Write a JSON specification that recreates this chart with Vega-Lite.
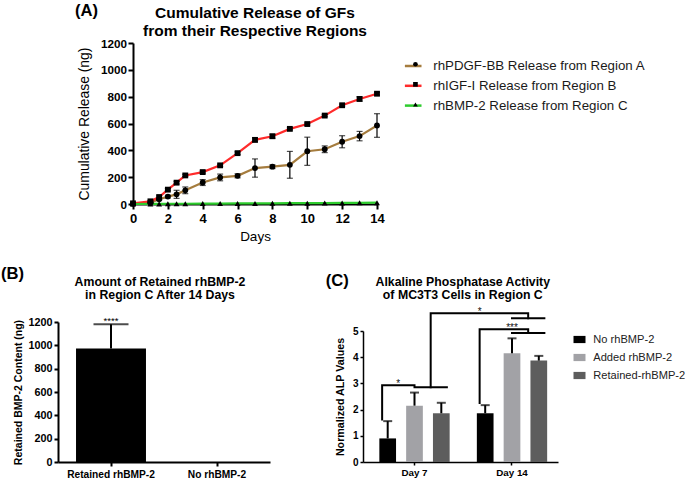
{
  "$schema": "https://vega.github.io/schema/vega-lite/v6.json",
  "autosize": {"type": "none"},
  "padding": {"left": 58, "top": 43, "right": 627, "bottom": 438},
  "background": "white",
  "config": {
    "view": {"stroke": null},
    "font": "Liberation Sans",
    "axis": {"grid": false, "labelOverlap": false, "labelBound": false, "labelFlush": false, "domainColor": "#000", "tickColor": "#000", "labelColor": "#000", "titleColor": "#000", "labelFont": "Liberation Sans", "titleFont": "Liberation Sans"},
    "axisY": {"labelOverlap": false},
    "axisQuantitative": {"labelOverlap": false},
    "legend": {"labelFont": "Liberation Sans"},
    "text": {"font": "Liberation Sans", "color": "#000"}
  },
  "datasets": {
    "release": [
      {"day": 0, "series": "rhPDGF-BB Release from Region A", "value": 2, "err": 0},
      {"day": 1, "series": "rhPDGF-BB Release from Region A", "value": 10, "err": 4},
      {"day": 1.5, "series": "rhPDGF-BB Release from Region A", "value": 35, "err": 8},
      {"day": 2, "series": "rhPDGF-BB Release from Region A", "value": 55, "err": 10},
      {"day": 2.5, "series": "rhPDGF-BB Release from Region A", "value": 72, "err": 30},
      {"day": 3, "series": "rhPDGF-BB Release from Region A", "value": 102, "err": 25},
      {"day": 4, "series": "rhPDGF-BB Release from Region A", "value": 160, "err": 22},
      {"day": 5, "series": "rhPDGF-BB Release from Region A", "value": 198, "err": 25},
      {"day": 6, "series": "rhPDGF-BB Release from Region A", "value": 210, "err": 15},
      {"day": 7, "series": "rhPDGF-BB Release from Region A", "value": 268, "err": 68},
      {"day": 8, "series": "rhPDGF-BB Release from Region A", "value": 278, "err": 14},
      {"day": 9, "series": "rhPDGF-BB Release from Region A", "value": 292, "err": 100},
      {"day": 10, "series": "rhPDGF-BB Release from Region A", "value": 393, "err": 105},
      {"day": 11, "series": "rhPDGF-BB Release from Region A", "value": 408, "err": 25},
      {"day": 12, "series": "rhPDGF-BB Release from Region A", "value": 464, "err": 45},
      {"day": 13, "series": "rhPDGF-BB Release from Region A", "value": 506, "err": 35},
      {"day": 14, "series": "rhPDGF-BB Release from Region A", "value": 585, "err": 88},
      {"day": 0, "series": "rhIGF-I Release from Region B", "value": 5, "err": 0},
      {"day": 1, "series": "rhIGF-I Release from Region B", "value": 20, "err": 6},
      {"day": 1.5, "series": "rhIGF-I Release from Region B", "value": 52, "err": 8},
      {"day": 2, "series": "rhIGF-I Release from Region B", "value": 107, "err": 8},
      {"day": 2.5, "series": "rhIGF-I Release from Region B", "value": 159, "err": 10},
      {"day": 3, "series": "rhIGF-I Release from Region B", "value": 213, "err": 8},
      {"day": 4, "series": "rhIGF-I Release from Region B", "value": 238, "err": 8},
      {"day": 5, "series": "rhIGF-I Release from Region B", "value": 288, "err": 8},
      {"day": 6, "series": "rhIGF-I Release from Region B", "value": 379, "err": 10},
      {"day": 7, "series": "rhIGF-I Release from Region B", "value": 478, "err": 15},
      {"day": 8, "series": "rhIGF-I Release from Region B", "value": 505, "err": 15},
      {"day": 9, "series": "rhIGF-I Release from Region B", "value": 560, "err": 8},
      {"day": 10, "series": "rhIGF-I Release from Region B", "value": 596, "err": 8},
      {"day": 11, "series": "rhIGF-I Release from Region B", "value": 659, "err": 8},
      {"day": 12, "series": "rhIGF-I Release from Region B", "value": 736, "err": 8},
      {"day": 13, "series": "rhIGF-I Release from Region B", "value": 783, "err": 16},
      {"day": 14, "series": "rhIGF-I Release from Region B", "value": 822, "err": 10},
      {"day": 0, "series": "rhBMP-2 Release from Region C", "value": 0, "err": 0},
      {"day": 1, "series": "rhBMP-2 Release from Region C", "value": 1, "err": 0},
      {"day": 1.5, "series": "rhBMP-2 Release from Region C", "value": 1, "err": 0},
      {"day": 2, "series": "rhBMP-2 Release from Region C", "value": 2, "err": 0},
      {"day": 2.5, "series": "rhBMP-2 Release from Region C", "value": 2, "err": 0},
      {"day": 3, "series": "rhBMP-2 Release from Region C", "value": 2, "err": 0},
      {"day": 4, "series": "rhBMP-2 Release from Region C", "value": 3, "err": 0},
      {"day": 5, "series": "rhBMP-2 Release from Region C", "value": 3, "err": 0},
      {"day": 6, "series": "rhBMP-2 Release from Region C", "value": 4, "err": 0},
      {"day": 7, "series": "rhBMP-2 Release from Region C", "value": 4, "err": 0},
      {"day": 8, "series": "rhBMP-2 Release from Region C", "value": 5, "err": 0},
      {"day": 9, "series": "rhBMP-2 Release from Region C", "value": 6, "err": 0},
      {"day": 10, "series": "rhBMP-2 Release from Region C", "value": 6, "err": 0},
      {"day": 11, "series": "rhBMP-2 Release from Region C", "value": 7, "err": 0},
      {"day": 12, "series": "rhBMP-2 Release from Region C", "value": 8, "err": 0},
      {"day": 13, "series": "rhBMP-2 Release from Region C", "value": 9, "err": 0},
      {"day": 14, "series": "rhBMP-2 Release from Region C", "value": 10, "err": 0}
    ],
    "retained": [
      {"group": "Retained rhBMP-2", "value": 972, "upper": 1180, "sig": "****"},
      {"group": "No rhBMP-2", "value": 0, "upper": 0, "sig": ""}
    ],
    "alp": [
      {"day": "Day 7", "group": "No rhBMP-2", "value": 0.9, "upper": 1.56},
      {"day": "Day 7", "group": "Added rhBMP-2", "value": 2.15, "upper": 2.65},
      {"day": "Day 7", "group": "Retained-rhBMP-2", "value": 1.86, "upper": 2.26},
      {"day": "Day 14", "group": "No rhBMP-2", "value": 1.86, "upper": 2.17},
      {"day": "Day 14", "group": "Added rhBMP-2", "value": 4.15, "upper": 4.72},
      {"day": "Day 14", "group": "Retained-rhBMP-2", "value": 3.87, "upper": 4.05}
    ],
    "brackets": [
      {"bracket": "d7", "ord": 1, "day": "Day 7", "slot": "No rhBMP-2", "level": 1.62},
      {"bracket": "d7", "ord": 2, "day": "Day 7", "slot": "No rhBMP-2", "level": 2.93},
      {"bracket": "d7", "ord": 3, "day": "Day 7", "slot": "Added rhBMP-2", "level": 2.93},
      {"bracket": "d7", "ord": 4, "day": "Day 7", "slot": "Added rhBMP-2", "level": 2.85},
      {"bracket": "d7", "ord": 5, "day": "Day 7", "slot": "Retained-rhBMP-2", "level": 2.85},
      {"bracket": "days", "ord": 1, "day": "Day 7", "slot": "Added/Retained", "level": 2.85},
      {"bracket": "days", "ord": 2, "day": "Day 7", "slot": "Added/Retained", "level": 5.68},
      {"bracket": "days", "ord": 3, "day": "Day 14", "slot": "Added/Retained", "level": 5.68},
      {"bracket": "days", "ord": 4, "day": "Day 14", "slot": "Added/Retained", "level": 5.49},
      {"bracket": "days_pair", "ord": 1, "day": "Day 14", "slot": "Added rhBMP-2", "level": 5.49},
      {"bracket": "days_pair", "ord": 2, "day": "Day 14", "slot": "Retained-rhBMP-2", "level": 5.49},
      {"bracket": "d14", "ord": 1, "day": "Day 14", "slot": "No rhBMP-2", "level": 2.25},
      {"bracket": "d14", "ord": 2, "day": "Day 14", "slot": "No rhBMP-2", "level": 5.07},
      {"bracket": "d14", "ord": 3, "day": "Day 14", "slot": "Added/Retained", "level": 5.07},
      {"bracket": "d14", "ord": 4, "day": "Day 14", "slot": "Added/Retained", "level": 4.92},
      {"bracket": "d14_pair", "ord": 1, "day": "Day 14", "slot": "Added rhBMP-2", "level": 4.92},
      {"bracket": "d14_pair", "ord": 2, "day": "Day 14", "slot": "Retained-rhBMP-2", "level": 4.92}
    ],
    "stars": [
      {"day": "Day 7", "slot": "No/Added", "level": 2.93, "sig": "*"},
      {"day": "Day 14", "slot": "No rhBMP-2", "level": 5.68, "sig": "*"},
      {"day": "Day 14", "slot": "Added rhBMP-2", "level": 5.07, "sig": "***"}
    ]
  },
  "bounds": "flush",
  "spacing": 118,
  "vconcat": [
    {
      "width": 319,
      "height": 161,
      "layer": [
        {
          "data": {"name": "release"},
          "mark": {"type": "line", "strokeWidth": 2.2},
          "encoding": {
            "x": {"field": "day", "type": "quantitative", "scale": {"domain": [0, 14], "range": [75, 319], "nice": false, "zero": false},
              "axis": {"values": [0, 2, 4, 6, 8, 10, 12, 14], "title": "Days", "labelOverlap": false, "labelFlush": false, "labelFontSize": 13, "labelFontWeight": "bold", "titleFontSize": 13.5, "titleFontWeight": "normal", "tickSize": 5, "tickWidth": 2, "domainWidth": 2, "labelPadding": 3, "titlePadding": 4}},
            "y": {"field": "value", "type": "quantitative", "scale": {"domain": [0, 1200], "nice": false},
              "axis": {"values": [0, 200, 400, 600, 800, 1000, 1200], "tickCount": 7, "format": "d", "labelOverlap": false, "labelBound": false, "labelSeparation": 0, "title": "Cumulative Release (ng)", "offset": -75, "labelFontSize": 11.7, "labelFontWeight": "bold", "titleFontSize": 13.9, "titleFontWeight": "normal", "tickSize": 5, "tickWidth": 2, "domainWidth": 2, "labelPadding": 1.5, "titlePadding": 9}},
            "stroke": {"field": "series", "type": "nominal",
              "scale": {"domain": ["rhPDGF-BB Release from Region A", "rhIGF-I Release from Region B", "rhBMP-2 Release from Region C"], "range": ["#a57c3e", "#ff2b2b", "#2ecc2e"]},
              "legend": {"orient": "none", "legendX": 345.2, "legendY": 13, "title": null, "symbolType": "stroke", "symbolSize": 276, "symbolStrokeWidth": 2.5, "labelFontSize": 13.3, "labelColor": "#1a1a1a", "labelOffset": 10, "rowPadding": 2.8, "labelLimit": 400}}
          }
        },
        {
          "data": {"name": "release"},
          "transform": [{"filter": "datum.err > 0"}],
          "mark": {"type": "errorbar", "color": "black", "ticks": {"size": 6, "thickness": 1.2}, "rule": {"strokeWidth": 1.2}},
          "encoding": {
            "x": {"field": "day", "type": "quantitative", "title": "Days"},
            "y": {"field": "value", "type": "quantitative", "title": "Cumulative Release (ng)"},
            "yError": {"field": "err"}
          }
        },
        {
          "data": {"name": "release"},
          "mark": {"type": "point", "filled": true, "color": "black", "size": 34, "opacity": 1},
          "encoding": {
            "x": {"field": "day", "type": "quantitative", "title": "Days"},
            "y": {"field": "value", "type": "quantitative", "title": "Cumulative Release (ng)"},
            "shape": {"field": "series", "type": "nominal", "sort": null, "scale": {"range": ["circle", "square", "triangle-up"]},
              "legend": {"orient": "none", "legendX": 350.8, "legendY": 14.6, "title": null, "symbolSize": 22, "symbolFillColor": "black", "symbolStrokeWidth": 0, "labelFontSize": 13.3, "labelExpr": "''", "rowPadding": 6.1}}
          }
        },
        {
          "data": {"values": [{"t": "(A)"}]},
          "mark": {"type": "text", "fontSize": 16.6, "fontWeight": "bold", "baseline": "middle", "align": "center"},
          "encoding": {"x": {"datum": -2.67, "type": "quantitative"}, "y": {"datum": 1438, "type": "quantitative"}, "text": {"field": "t"}}
        },
        {
          "data": {"values": [{"t": "Cumulative Release of GFs"}]},
          "mark": {"type": "text", "fontSize": 15.5, "fontWeight": "bold", "baseline": "alphabetic", "align": "center", "lineHeight": 18.3, "text": ["Cumulative Release of GFs", "from their Respective Regions"]},
          "encoding": {"x": {"datum": 7, "type": "quantitative"}, "y": {"datum": 1388, "type": "quantitative"}}
        }
      ]
    },
    {
      "bounds": "flush",
      "spacing": 93,
      "hconcat": [
        {
          "width": 212,
          "height": 140,
          "layer": [
            {
              "data": {"name": "retained"},
              "mark": {"type": "bar", "color": "black"},
              "encoding": {
                "x": {"field": "group", "type": "nominal", "sort": null, "scale": {"paddingInner": 0.34, "paddingOuter": 0.17},
                  "axis": {"title": null, "labelAngle": 0, "labelOverlap": false, "labelFontSize": 10.2, "labelFontWeight": "bold", "tickSize": 4, "tickWidth": 2, "domainWidth": 2, "labelPadding": 3}},
                "y": {"field": "value", "type": "quantitative", "scale": {"domain": [0, 1200], "nice": false},
                  "axis": {"values": [0, 200, 400, 600, 800, 1000, 1200], "tickCount": 7, "format": "d", "labelOverlap": false, "labelBound": false, "labelSeparation": 0, "title": "Retained BMP-2 Content (ng)", "titleFontSize": 10.5, "titleFontWeight": "bold", "labelFontSize": 10.8, "labelFontWeight": "bold", "tickSize": 4, "tickWidth": 2, "domainWidth": 2, "labelPadding": 2, "titlePadding": 4.5}}
              }
            },
            {
              "data": {"name": "retained"},
              "transform": [{"filter": "datum.upper > datum.value"}],
              "mark": {"type": "rule", "color": "black", "strokeWidth": 2},
              "encoding": {
                "x": {"field": "group", "type": "nominal", "sort": null},
                "y": {"field": "value", "type": "quantitative"},
                "y2": {"field": "upper"}
              }
            },
            {
              "data": {"name": "retained"},
              "transform": [{"filter": "datum.upper > datum.value"}],
              "mark": {"type": "tick", "color": "black", "size": 35, "thickness": 2, "orient": "horizontal"},
              "encoding": {
                "x": {"field": "group", "type": "nominal", "sort": null},
                "y": {"field": "upper", "type": "quantitative"}
              }
            },
            {
              "data": {"name": "retained"},
              "mark": {"type": "text", "fontSize": 9.5, "baseline": "alphabetic", "align": "center", "dy": 0, "fill": "#000"},
              "encoding": {
                "x": {"field": "group", "type": "nominal", "sort": null},
                "y": {"field": "upper", "type": "quantitative"},
                "text": {"field": "sig"}
              }
            },
            {
              "data": {"values": [{"t": "(B)"}]},
              "mark": {"type": "text", "fontSize": 16.6, "fontWeight": "bold", "baseline": "middle", "align": "center", "dx": -98.5},
              "encoding": {"x": {"datum": "Retained rhBMP-2", "type": "nominal"}, "y": {"datum": 1609, "type": "quantitative"}, "text": {"field": "t"}}
            },
            {
              "data": {"values": [{"t": "title"}]},
              "mark": {"type": "text", "fontSize": 12.3, "fontWeight": "bold", "baseline": "alphabetic", "align": "center", "dx": 49, "lineHeight": 13, "text": ["Amount of Retained rhBMP-2", "in Region C After 14 Days"]},
              "encoding": {"x": {"datum": "Retained rhBMP-2", "type": "nominal"}, "y": {"datum": 1510, "type": "quantitative"}}
            }
          ]
        },
        {
          "width": 195,
          "height": 140,
          "resolve": {"scale": {"xOffset": "independent"}},
          "layer": [
            {
              "data": {"name": "alp"},
              "encoding": {
                "x": {"field": "day", "type": "nominal", "sort": null, "scale": {"domain": ["Day 7", "Day 14"], "paddingInner": 0.2, "paddingOuter": 0.1, "align": 0.641},
                  "axis": {"title": null, "labelAngle": 0, "labelOverlap": false, "labelFontSize": 9.8, "labelFontWeight": "bold", "tickSize": 3, "tickWidth": 1.5, "domainWidth": 1.5, "labelPadding": 2}},
                "xOffset": {"field": "group", "type": "nominal", "scale": {"domain": ["No rhBMP-2", "Added rhBMP-2", "Retained-rhBMP-2"], "paddingInner": 0.377, "paddingOuter": 0.1435}},
                "y": {"field": "value", "type": "quantitative", "scale": {"domain": [0, 5], "range": [140, 9], "nice": false},
                  "axis": {"values": [0, 1, 2, 3, 4, 5], "tickCount": 6, "labelOverlap": false, "labelBound": false, "labelSeparation": 0, "title": "Normalized ALP Values", "titleFontSize": 10.7, "titleFontWeight": "bold", "labelFontSize": 10, "labelFontWeight": "bold", "tickSize": 3, "tickWidth": 1.5, "domainWidth": 1.5, "labelPadding": 2, "titlePadding": 6.5}}
              },
              "layer": [
                {
                  "mark": {"type": "bar"},
                  "encoding": {
                    "fill": {"field": "group", "type": "nominal",
                      "scale": {"domain": ["No rhBMP-2", "Added rhBMP-2", "Retained-rhBMP-2"], "range": ["#000000", "#a2a2a6", "#5d5d5d"]},
                      "legend": {"orient": "none", "legendX": 515.5, "legendY": 290.5, "title": null, "symbolType": "M-1,-0.6H1V0.6H-1Z", "symbolSize": 144, "symbolStrokeWidth": 0, "labelFontSize": 11.1, "labelColor": "#222", "labelOffset": 7.8, "rowPadding": 6}}
                  }
                },
                {
                  "mark": {"type": "rule", "color": "black", "strokeWidth": 2},
                  "encoding": {"y2": {"field": "upper"}}
                },
                {
                  "mark": {"type": "tick", "color": "black", "size": 9, "thickness": 2, "orient": "horizontal"},
                  "encoding": {"y": {"field": "upper", "type": "quantitative"}}
                }
              ]
            },
            {
              "encoding": {
                "x": {"field": "day", "type": "nominal", "sort": null},
                "xOffset": {"field": "slot", "type": "nominal", "scale": {"domain": ["No rhBMP-2", "No/Added", "Added rhBMP-2", "Added/Retained", "Retained-rhBMP-2"], "paddingInner": 0, "paddingOuter": 0.41}},
                "y": {"field": "level", "type": "quantitative"}
              },
              "layer": [
                {
                  "data": {"name": "brackets"},
                  "mark": {"type": "line", "color": "black", "strokeWidth": 2, "strokeJoin": "miter", "strokeCap": "square"},
                  "encoding": {"detail": {"field": "bracket"}, "order": {"field": "ord", "type": "quantitative"}}
                },
                {
                  "data": {"name": "stars"},
                  "mark": {"type": "text", "fontSize": 10, "baseline": "alphabetic", "align": "center", "dy": 2, "fill": "#111"},
                  "encoding": {"text": {"field": "sig"}}
                }
              ]
            },
            {
              "data": {"values": [{"t": "(C)"}]},
              "mark": {"type": "text", "fontSize": 16.6, "fontWeight": "bold", "baseline": "middle", "align": "center", "dx": -77.2},
              "encoding": {"x": {"datum": "Day 7", "type": "nominal"}, "y": {"datum": 6.92, "type": "quantitative"}, "text": {"field": "t"}}
            },
            {
              "data": {"values": [{"t": "title"}]},
              "mark": {"type": "text", "fontSize": 12.3, "fontWeight": "bold", "baseline": "alphabetic", "align": "center", "dx": 48.3, "lineHeight": 13, "text": ["Alkaline Phosphatase Activity", "of MC3T3 Cells in Region C"]},
              "encoding": {"x": {"datum": "Day 7", "type": "nominal"}, "y": {"datum": 6.72, "type": "quantitative"}}
            }
          ]
        }
      ]
    }
  ]
}
